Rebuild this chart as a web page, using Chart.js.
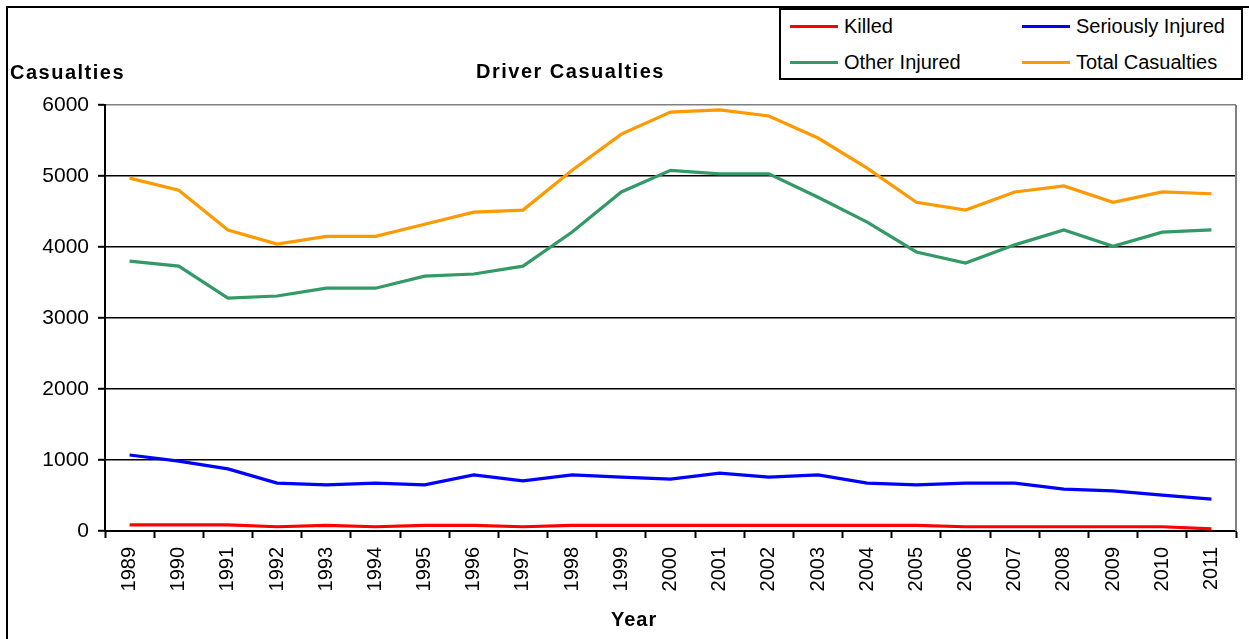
<!DOCTYPE html>
<html>
<head>
<meta charset="utf-8">
<script src="https://cdn.jsdelivr.net/npm/chart.js@4/dist/chart.umd.min.js"></script>
<style>
  html, body { margin: 0; padding: 0; background: #fff; }
  #wrap { position: relative; width: 1249px; height: 639px; overflow: hidden; font-family: "Liberation Sans", Arial, sans-serif; }
  #frame { position: absolute; left: 6px; top: 6px; width: 1300px; height: 700px; border: 2px solid #000; box-sizing: border-box; }
  canvas { position: absolute; left: 0; top: 0; }
  .lbl { position: absolute; font-weight: bold; font-size: 20px; color: #000; white-space: nowrap; letter-spacing: 1.5px; }
  #legend { position: absolute; left: 779px; top: 8px; width: 464px; height: 72px; border: 2px solid #000; box-sizing: border-box; background: #fff; }
  .li { position: absolute; font-size: 20px; color: #000; white-space: nowrap; }
  .sw { position: absolute; width: 48px; height: 3px; }
</style>
</head>
<body>
<div id="wrap">
  <div id="frame"></div>
  <canvas id="c" width="1249" height="639"></canvas>
  <div class="lbl" style="left:10px; top:61px;">Casualties</div>
  <div class="lbl" style="left:476px; top:60px;">Driver Casualties</div>
  <div class="lbl" style="left:611px; top:608px; letter-spacing:1px;">Year</div>
  <div id="legend"></div>
</div>
<script>
const years = ["1989","1990","1991","1992","1993","1994","1995","1996","1997","1998","1999","2000","2001","2002","2003","2004","2005","2006","2007","2008","2009","2010","2011"];
const killed = [85,85,85,60,80,60,80,80,60,80,80,80,80,80,80,80,80,60,60,60,60,60,30];
const seriouslyInjured = [1070,985,875,675,650,675,650,790,705,790,760,730,815,760,790,675,650,675,675,590,565,505,450];
const otherInjured = [3800,3730,3280,3310,3420,3420,3590,3620,3730,4210,4775,5080,5030,5030,4700,4350,3930,3775,4030,4240,4010,4210,4240];
const totalCasualties = [4970,4800,4240,4040,4150,4150,4320,4490,4520,5080,5590,5900,5930,5845,5535,5110,4630,4520,4775,4860,4630,4775,4750];
const yTicks = [0,1000,2000,3000,4000,5000,6000];

const seriesNames = ["Killed","Seriously Injured","Other Injured","Total Casualties"];
const seriesColors = ["#FF0000","#0000FF","#339966","#FF9900"];
const seriesData = [killed, seriouslyInjured, otherInjured, totalCasualties];

// HTML legend (2 columns)
const legend = document.getElementById('legend');
const legPos = [[9,6],[241,6],[9,42],[241,42]];
seriesNames.forEach((n,i) => {
  const sw = document.createElement('div');
  sw.className = 'sw';
  sw.style.background = seriesColors[i];
  sw.style.left = legPos[i][0] + 'px';
  sw.style.top = (legPos[i][1] + 9) + 'px';
  legend.appendChild(sw);
  const t = document.createElement('div');
  t.className = 'li';
  t.textContent = n;
  t.style.left = (legPos[i][0] + 54) + 'px';
  t.style.top = (legPos[i][1] - 1) + 'px';
  legend.appendChild(t);
});

const borderPlugin = {
  id: 'rightBorder',
  beforeDatasetsDraw(chart) {
    const a = chart.chartArea, ctx = chart.ctx;
    ctx.save();
    ctx.strokeStyle = '#808080';
    ctx.lineWidth = 2;
    ctx.beginPath();
    ctx.moveTo(a.right, a.top);
    ctx.lineTo(a.right, a.bottom);
    ctx.stroke();
    ctx.restore();
  }
};

new Chart(document.getElementById('c'), {
  type: 'line',
  data: {
    labels: years,
    datasets: seriesNames.map((n,i) => ({
      label: n,
      data: seriesData[i],
      borderColor: seriesColors[i],
      backgroundColor: seriesColors[i],
      borderWidth: 3.2,
      pointRadius: 0,
      tension: 0,
      fill: false
    }))
  },
  options: {
    responsive: false,
    animation: false,
    devicePixelRatio: 1,
    layout: { padding: { left: 0, top: 105, right: 13, bottom: 0 } },
    plugins: { legend: { display: false }, title: { display: false }, tooltip: { enabled: false } },
    scales: {
      x: {
        type: 'category',
        offset: true,
        grid: { offset: true, drawOnChartArea: false, drawTicks: true, tickLength: 7, tickColor: '#000', tickWidth: 2 },
        border: { color: '#000', width: 2 },
        ticks: { minRotation: 90, maxRotation: 90, autoSkip: false, padding: 9, color: '#000', font: { family: 'Liberation Sans', size: 20 } },
        afterFit(s) { s.height = 108; }
      },
      y: {
        min: 0, max: 6000,
        afterBuildTicks(s) { s.ticks = yTicks.map(v => ({ value: v })); },
        grid: {
          color: ctx => (ctx.tick && ctx.tick.value === 6000) ? '#808080' : '#000',
          lineWidth: 1.6,
          tickLength: 7, tickColor: '#000', tickWidth: 2
        },
        border: { color: '#000', width: 2 },
        ticks: { padding: 9, color: '#000', font: { family: 'Liberation Sans', size: 21 }, callback: v => String(v) },
        afterFit(s) { s.width = 105; }
      }
    }
  },
  plugins: [borderPlugin]
});
</script>
</body>
</html>
